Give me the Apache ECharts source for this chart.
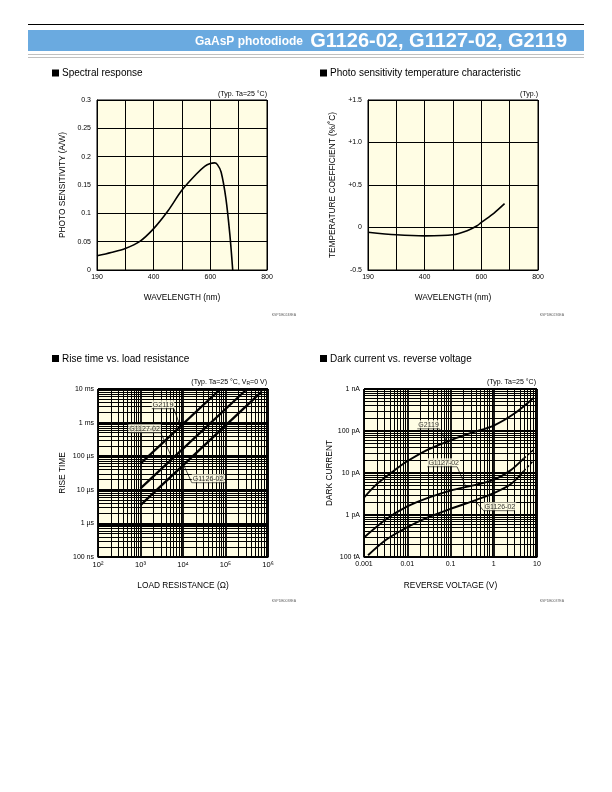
<!DOCTYPE html>
<html><head><meta charset="utf-8">
<script src="https://cdn.jsdelivr.net/npm/echarts@6/dist/echarts.min.js"></script>
<style>html,body{margin:0;padding:0;background:#fff}#c{width:612px;height:792px}</style>
</head><body><div id="c"></div>
<script>
// ---------- Chart 1: Spectral response ----------
const wavelength1 = [200, 250, 300, 350, 400, 450, 500, 550, 580, 600, 615, 625, 638, 655, 669, 679];
const sensitivity = [0.025, 0.031, 0.038, 0.05, 0.073, 0.104, 0.141, 0.169, 0.183, 0.188, 0.189, 0.186, 0.173, 0.126, 0.062, 0];
const xTickVals1 = [200, 400, 600, 800];
const xTickText1 = ['190', '400', '600', '800'];
const yTickVals1 = [0, 0.05, 0.1, 0.15, 0.2, 0.25, 0.3];
const yTickText1 = ['0', '0.05', '0.1', '0.15', '0.2', '0.25', '0.3'];

// ---------- Chart 2: Temperature coefficient ----------
const wavelength2 = [200, 300, 400, 500, 550, 585, 600, 645, 682];
const tempCoef = [-0.055, -0.085, -0.098, -0.086, -0.038, 0.02, 0.06, 0.17, 0.28];
const xTickVals2 = [200, 400, 600, 800];
const xTickText2 = ['190', '400', '600', '800'];
const yTickVals2 = [-0.5, 0, 0.5, 1, 1.5];
const yTickText2 = ['-0.5', '0', '+0.5', '+1.0', '+1.5'];

// ---------- Chart 3: Rise time vs load resistance ----------
const riseR_G2119 = [1e3, 7.6e4];
const riseT_G2119 = [6e-5, 1e-2];
const riseR_G1127 = [1e3, 3.2e5];
const riseT_G1127 = [1.1e-5, 1e-2];
const riseR_G1126 = [1e3, 7.2e5];
const riseT_G1126 = [3.5e-6, 8.5e-3];
const xTickVals3 = [1e2, 1e3, 1e4, 1e5, 1e6];
const xTickText3 = ['10²', '10³', '10⁴', '10⁵', '10⁶'];
const yTickVals3 = [1e-7, 1e-6, 1e-5, 1e-4, 1e-3, 1e-2];
const yTickText3 = ['100 ns', '1 µs', '10 µs', '100 µs', '1 ms', '10 ms'];

// ---------- Chart 4: Dark current vs reverse voltage ----------
const darkV_G2119 = [0.001, 0.002, 0.005, 0.01, 0.03, 0.1, 0.3, 1, 3, 8.4];
const darkI_G2119 = [2.6e-12, 5.5e-12, 1.15e-11, 1.9e-11, 3.6e-11, 6e-11, 9e-11, 1.35e-10, 2.6e-10, 6.2e-10];
const darkV_G1127 = [0.001, 0.0033, 0.01, 0.028, 0.1, 0.4, 1, 2.4, 4.9, 8.4];
const darkI_G1127 = [2.9e-13, 8e-13, 1.6e-12, 2.5e-12, 3.8e-12, 5.3e-12, 6.9e-12, 1.14e-11, 2.2e-11, 3.6e-11];
const darkV_G1126 = [0.00124, 0.0033, 0.01, 0.028, 0.1, 0.4, 1, 2.4, 4.9, 8.4];
const darkI_G1126 = [1.1e-13, 2.6e-13, 5.1e-13, 8.5e-13, 1.4e-12, 2.3e-12, 3.3e-12, 5.3e-12, 1.1e-11, 2e-11];
const dashFrom = 8; // index where the dashed extension starts (G1127, G1126)
const xTickVals4 = [0.001, 0.01, 0.1, 1, 10];
const xTickText4 = ['0.001', '0.01', '0.1', '1', '10'];
const yTickVals4 = [1e-13, 1e-12, 1e-11, 1e-10, 1e-9];
const yTickText4 = ['100 fA', '1 pA', '10 pA', '100 pA', '1 nA'];

// ---------- helpers ----------
const FONT = '"Liberation Sans", Arial, Helvetica, sans-serif';
const BG = '#FFFDE4';
const pair = (xs, ys) => xs.map((x, i) => [x, ys[i]]);
const matcher = (vals, texts, log) => v => {
  for (let i = 0; i < vals.length; i++) {
    const a = log ? Math.log10(vals[i]) : vals[i];
    const b = log ? Math.log10(v) : v;
    if (Math.abs(a - b) < 1e-6) return texts[i];
  }
  return '';
};
function axis(o) {
  const a = {
    type: o.log ? 'log' : 'value', gridIndex: o.g, min: o.min, max: o.max,
    name: o.name, nameLocation: 'middle', nameGap: o.nameGap,
    nameTextStyle: { fontFamily: FONT, fontSize: 8.3, color: '#000' },
    axisLine: { show: true, onZero: false, lineStyle: { color: '#000', width: 1 } },
    axisTick: { show: false },
    axisLabel: { fontFamily: FONT, fontSize: o.labelSize || 7, color: '#000', margin: o.margin,
      formatter: matcher(o.vals, o.texts, o.log), showMinLabel: true, showMaxLabel: true, hideOverlap: false },
    splitLine: { show: true, lineStyle: { color: '#000', width: o.log ? 1.8 : 1 } }
  };
  if (o.log) { a.logBase = 10; a.splitNumber = o.split; } else { a.interval = o.interval; }
  return a;
}
function minorVals(vmin, vmax) {
  const out = [];
  for (let e = Math.round(Math.log10(vmin)); e < Math.round(Math.log10(vmax)); e++)
    for (let m = 2; m <= 9; m++) out.push(m * Math.pow(10, e));
  return out;
}
function minorGrid(idx, xmin, xmax, ymin, ymax) {
  return {
    type: 'line', xAxisIndex: idx, yAxisIndex: idx, data: [], silent: true, z: 1,
    markLine: {
      silent: true, symbol: ['none', 'none'], label: { show: false }, animation: false, precision: 20,
      lineStyle: { color: '#000', width: 1, type: 'solid' },
      data: minorVals(xmin, xmax).map(v => ({ xAxis: v })).concat(minorVals(ymin, ymax).map(v => ({ yAxis: v })))
    }
  };
}
function curve(idx, data, width, dashed, smooth) {
  return { type: 'line', xAxisIndex: idx, yAxisIndex: idx, data, showSymbol: false, symbol: 'none',
    smooth: smooth == null ? 0.3 : smooth, z: 4, silent: true,
    lineStyle: { color: '#000', width, type: dashed ? [3, 2] : 'solid' } };
}
// annotation: anchor (underline start), underline end, curve point
function annot(idx, text, a, b, c, leftLeader) {
  const pts = leftLeader ? [c, a, b] : [a, b, c];
  return [
    { type: 'line', xAxisIndex: idx, yAxisIndex: idx, data: pts, showSymbol: false, symbol: 'none', z: 5, silent: true,
      lineStyle: { color: '#000', width: 0.7 } },
    { type: 'scatter', xAxisIndex: idx, yAxisIndex: idx, data: [{ value: a, name: text }], symbol: 'rect', symbolSize: 1,
      itemStyle: { color: 'rgba(0,0,0,0)' }, z: 6, silent: true,
      label: { show: true, position: [0.5, 0], align: 'left', verticalAlign: 'bottom', formatter: '{b}',
        fontFamily: FONT, fontSize: 7, color: '#000', backgroundColor: BG, padding: [1, 1, 0, 1] } }
  ];
}

const grids = [
  { left: 97, top: 100, width: 170, height: 170 },
  { left: 368, top: 100, width: 170, height: 170 },
  { left: 98, top: 389, width: 170, height: 168 },
  { left: 364, top: 389, width: 173, height: 168 }
].map(g => Object.assign({ show: true, backgroundColor: BG, borderColor: '#000', borderWidth: 1, containLabel: false }, g));

const xAxes = [
  axis({ g: 0, min: 200, max: 800, interval: 100, vals: xTickVals1, texts: xTickText1, name: 'WAVELENGTH (nm)', nameGap: 24, margin: 4 }),
  axis({ g: 1, min: 200, max: 800, interval: 100, vals: xTickVals2, texts: xTickText2, name: 'WAVELENGTH (nm)', nameGap: 24, margin: 4 }),
  axis({ g: 2, log: true, min: 1e2, max: 1e6, split: 4, vals: xTickVals3, texts: xTickText3, name: 'LOAD RESISTANCE (Ω)', nameGap: 25, margin: 4, labelSize: 7.5 }),
  axis({ g: 3, log: true, min: 1e-3, max: 10, split: 4, vals: xTickVals4, texts: xTickText4, name: 'REVERSE VOLTAGE (V)', nameGap: 25, margin: 4 })
];
const yAxes = [
  axis({ g: 0, min: 0, max: 0.3, interval: 0.05, vals: yTickVals1, texts: yTickText1, name: 'PHOTO SENSITIVITY (A/W)', nameGap: 30, margin: 6 }),
  axis({ g: 1, min: -0.5, max: 1.5, interval: 0.5, vals: yTickVals2, texts: yTickText2, name: 'TEMPERATURE COEFFICIENT (%/˚C)', nameGap: 31, margin: 6 }),
  axis({ g: 2, log: true, min: 1e-7, max: 1e-2, split: 5, vals: yTickVals3, texts: yTickText3, name: 'RISE TIME', nameGap: 31, margin: 4 }),
  axis({ g: 3, log: true, min: 1e-13, max: 1e-9, split: 4, vals: yTickVals4, texts: yTickText4, name: 'DARK CURRENT', nameGap: 28, margin: 4 })
];

const series = [
  curve(0, pair(wavelength1, sensitivity), 1.6),
  curve(1, pair(wavelength2, tempCoef), 1.6),
  minorGrid(2, 1e2, 1e6, 1e-7, 1e-2),
  curve(2, pair(riseR_G2119, riseT_G2119), 2.3, false, 0),
  curve(2, pair(riseR_G1127, riseT_G1127), 2.3, false, 0),
  curve(2, pair(riseR_G1126, riseT_G1126), 2.3, false, 0),
  ...annot(2, 'G2119', [1845, 2.6e-3], [6080, 2.6e-3], [8650, 7.7e-4], false),
  ...annot(2, 'G1127-02', [516, 5.0e-4], [3000, 5.0e-4], [5600, 8.4e-5], false),
  ...annot(2, 'G1126-02', [16100, 1.63e-5], [107000, 1.63e-5], [10300, 5.6e-5], true),
  minorGrid(3, 1e-3, 10, 1e-13, 1e-9),
  curve(3, pair(darkV_G2119, darkI_G2119), 1.9),
  curve(3, pair(darkV_G1127, darkI_G1127).slice(0, dashFrom + 1), 1.9),
  curve(3, pair(darkV_G1127, darkI_G1127).slice(dashFrom), 1.5, true, 0),
  curve(3, pair(darkV_G1126, darkI_G1126).slice(0, dashFrom + 1), 1.9),
  curve(3, pair(darkV_G1126, darkI_G1126).slice(dashFrom), 1.5, true, 0),
  ...annot(3, 'G2119', [0.0171, 1.13e-10], [0.0556, 1.13e-10], [0.083, 5.5e-11], false),
  ...annot(3, 'G1127-02', [0.0292, 1.41e-11], [0.1416, 1.41e-11], [0.229, 4.6e-12], false),
  ...annot(3, 'G1126-02', [0.583, 1.27e-12], [3.05, 1.27e-12], [0.37, 2.2e-12], true)
];

function txt(x, y, text, size, align, extra) {
  return Object.assign({ type: 'text', x, y, silent: true,
    style: { text, fill: '#000', font: size + 'px ' + FONT, align: align || 'left', verticalAlign: 'middle' } }, extra || {});
}
function section(x, y, text) {
  return [
    { type: 'rect', shape: { x: x, y: y - 4, width: 7, height: 7 }, style: { fill: '#000' }, silent: true },
    txt(x + 10, y, text, 10, 'left')
  ];
}
const graphic = [
  { type: 'line', shape: { x1: 28, y1: 24.5, x2: 584, y2: 24.5 }, style: { stroke: '#000', lineWidth: 1.2 }, silent: true },
  { type: 'rect', shape: { x: 28, y: 30, width: 556, height: 21 }, style: { fill: '#6AAAE0' }, silent: true },
  { type: 'line', shape: { x1: 28, y1: 54.5, x2: 584, y2: 54.5 }, style: { stroke: '#C0C0C0', lineWidth: 1 }, silent: true },
  { type: 'line', shape: { x1: 28, y1: 57.5, x2: 584, y2: 57.5 }, style: { stroke: '#C0C0C0', lineWidth: 1 }, silent: true },
  { type: 'text', x: 303, y: 42, silent: true, style: { text: 'GaAsP photodiode', fill: '#fff', font: 'bold 12px ' + FONT, align: 'right', verticalAlign: 'middle' } },
  { type: 'text', x: 567, y: 41, silent: true, style: { text: 'G1126-02, G1127-02, G2119', fill: '#fff', font: 'bold 20px ' + FONT, align: 'right', verticalAlign: 'middle' } },
  ...section(52, 73.5, 'Spectral response'),
  ...section(320, 73.5, 'Photo sensitivity temperature characteristic'),
  ...section(52, 359, 'Rise time vs. load resistance'),
  ...section(320, 359, 'Dark current vs. reverse voltage'),
  txt(267, 94, '(Typ. Ta=25 °C)', 7, 'right'),
  txt(538, 94, '(Typ.)', 7, 'right'),
  { type: 'text', x: 267, y: 382, silent: true, style: { text: '(Typ. Ta=25 °C, V{s|R}=0 V)', fill: '#000', font: '7px ' + FONT, align: 'right', verticalAlign: 'middle',
      rich: { s: { fontSize: 5, fontFamily: FONT, fill: '#000', verticalAlign: 'bottom', padding: [3, 0, 0, 0] } } } },
  txt(536, 382, '(Typ. Ta=25 °C)', 7, 'right'),
  { type: 'text', x: 296, y: 315, silent: true, style: { text: 'KSPDB0248EA', fill: '#666', font: '3.5px ' + FONT, align: 'right', verticalAlign: 'middle' } },
  { type: 'text', x: 564, y: 315, silent: true, style: { text: 'KSPDB0236EA', fill: '#666', font: '3.5px ' + FONT, align: 'right', verticalAlign: 'middle' } },
  { type: 'text', x: 296, y: 601, silent: true, style: { text: 'KSPDB0038EA', fill: '#666', font: '3.5px ' + FONT, align: 'right', verticalAlign: 'middle' } },
  { type: 'text', x: 564, y: 601, silent: true, style: { text: 'KSPDB0037EA', fill: '#666', font: '3.5px ' + FONT, align: 'right', verticalAlign: 'middle' } }
];

const chart = echarts.init(document.getElementById('c'), null, { renderer: 'canvas', width: 612, height: 792 });
chart.setOption({
  animation: false,
  backgroundColor: '#fff',
  grid: grids,
  xAxis: xAxes,
  yAxis: yAxes,
  series,
  graphic
});
</script>
</body></html>
